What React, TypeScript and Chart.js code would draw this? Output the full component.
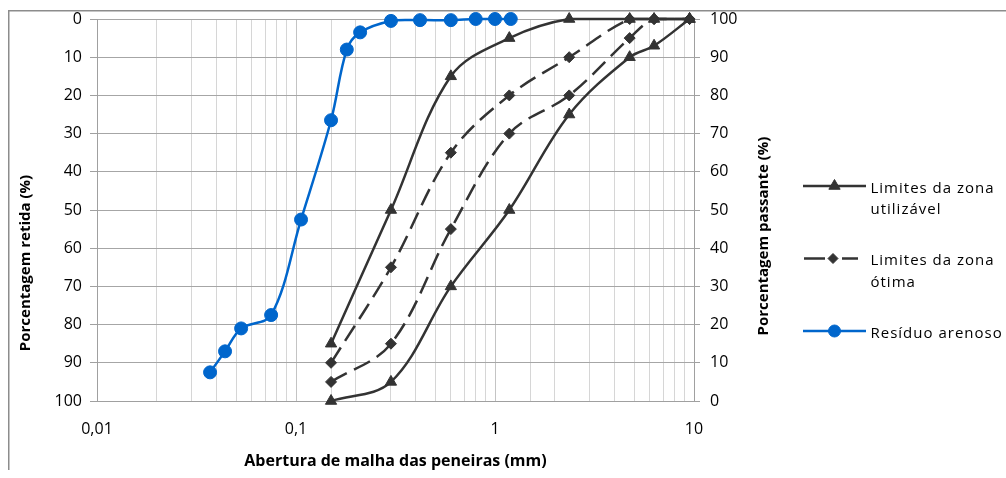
import React, { useEffect, useRef } from 'react';
import { Chart, registerables } from 'chart.js';

Chart.register(...registerables);

// ---------- data ----------
const sieveOpenings = [0.15, 0.3, 0.6, 1.18, 2.36, 4.75, 6.3, 9.5];
const usableUpperPassing = [15, 50, 85, 95, 100, 100, 100, 100];
const usableLowerPassing = [0, 5, 30, 50, 75, 90, 93, 100];
const optimalUpperPassing = [10, 35, 65, 80, 90, 100, 100, 100];
const optimalLowerPassing = [5, 15, 45, 70, 80, 95, 100, 100];

const residueOpenings = [0.037, 0.044, 0.053, 0.075, 0.106, 0.15, 0.18, 0.21, 0.3, 0.42, 0.6, 0.8, 1.0, 1.2];
const residuePassing = [7.5, 13, 19, 22.5, 47.5, 73.5, 92, 96.5, 99.5, 99.7, 99.7, 100, 100, 100];

const xDecadeLabels = ['0,01', '0,1', '1', '10'];
const legendUsable = ['Limites da zona', 'utilizável'];
const legendOptimal = ['Limites da zona', 'ótima'];
const legendResidue = ['Resíduo arenoso'];
const xTitle = 'Abertura de malha das peneiras (mm)';
const leftTitle = 'Porcentagem retida (%)';
const rightTitle = 'Porcentagem passante (%)';

// ---------- styles ----------
const FONT = "'Open Sans', 'DejaVu Sans', sans-serif";
const DARK = '#333333';
const BLUE = '#0066cc';
const W = 998;
const H = 462;

const toPoints = (xs: number[], ys: number[]) => xs.map((x, i) => ({ x, y: ys[i] }));

function drawMarker(ctx: CanvasRenderingContext2D, style: string, x: number, y: number, r: number, color: string) {
  ctx.save();
  ctx.fillStyle = color;
  ctx.strokeStyle = color;
  ctx.lineWidth = 1;
  ctx.setLineDash([]);
  ctx.beginPath();
  if (style === 'triangle') {
    ctx.moveTo(x, y - r);
    ctx.lineTo(x + r * 0.866, y + r * 0.5);
    ctx.lineTo(x - r * 0.866, y + r * 0.5);
    ctx.closePath();
  } else if (style === 'rectRot') {
    ctx.moveTo(x, y - r);
    ctx.lineTo(x + r, y);
    ctx.lineTo(x, y + r);
    ctx.lineTo(x - r, y);
    ctx.closePath();
  } else {
    ctx.arc(x, y, r, 0, Math.PI * 2);
  }
  ctx.fill();
  ctx.stroke();
  ctx.restore();
}

const decorPlugin = {
  id: 'decor',
  afterDraw(chart: any) {
    const ctx: CanvasRenderingContext2D = chart.ctx;
    ctx.save();
    // outer chart border (left + top)
    ctx.strokeStyle = '#8c8c8c';
    ctx.lineWidth = 1.5;
    ctx.beginPath();
    ctx.moveTo(0.75, H);
    ctx.lineTo(0.75, 2.75);
    ctx.lineTo(W, 2.75);
    ctx.stroke();

    // y titles
    ctx.fillStyle = '#000';
    ctx.font = `bold 15px ${FONT}`;
    ctx.textAlign = 'center';
    ctx.textBaseline = 'middle';
    ctx.save();
    ctx.translate(18, 255);
    ctx.rotate(-Math.PI / 2);
    ctx.fillText(leftTitle, 0, 0);
    ctx.restore();
    ctx.save();
    ctx.translate(756, 228);
    ctx.rotate(-Math.PI / 2);
    ctx.fillText(rightTitle, 0, 0);
    ctx.restore();

    // legend
    const items = [
      { ds: chart.data.datasets[0], text: legendUsable, y: 178, x0: 795, x1: 858, dash: [] as number[], r: 6.5 },
      { ds: chart.data.datasets[2], text: legendOptimal, y: 250.5, x0: 796, x1: 850, dash: [21, 17], r: 5 },
      { ds: chart.data.datasets[4], text: legendResidue, y: 323, x0: 795, x1: 858, dash: [] as number[], r: 6 },
    ];
    ctx.font = `15px ${FONT}`;
    (ctx as any).letterSpacing = '1px';
    ctx.textAlign = 'left';
    ctx.textBaseline = 'alphabetic';
    for (const it of items) {
      ctx.save();
      ctx.strokeStyle = it.ds.borderColor;
      ctx.lineWidth = it.ds.borderWidth;
      ctx.setLineDash(it.dash);
      ctx.beginPath();
      ctx.moveTo(it.x0, it.y);
      ctx.lineTo(it.x1, it.y);
      ctx.stroke();
      ctx.restore();
      drawMarker(ctx, it.ds.pointStyle, (it.x0 + it.x1) / 2 + (it.dash.length ? 2 : 0), it.y, it.r, it.ds.pointBackgroundColor);
      ctx.fillStyle = '#000';
      it.text.forEach((t: string, i: number) => {
        ctx.fillText(t, 862.5, it.y + 6.5 + i * 21.5);
      });
    }
    ctx.restore();
  },
};

const zeroPad = (s: any) => {
  s.paddingTop = 0;
  s.paddingBottom = 0;
};

export default function App() {
  const ref = useRef<HTMLCanvasElement>(null);

  useEffect(() => {
    const canvas = ref.current!;
    Chart.defaults.font.family = FONT;
    const lineBase = {
      borderColor: DARK,
      backgroundColor: DARK,
      pointBackgroundColor: DARK,
      pointBorderColor: DARK,
      borderWidth: 2.5,
      pointBorderWidth: 1,
      tension: 0.35,
      fill: false,
      clip: false as const,
      yAxisID: 'y1',
    };
    const chart = new Chart(canvas, {
      type: 'line',
      data: {
        datasets: [
          { ...lineBase, label: legendUsable.join(' '), data: toPoints(sieveOpenings, usableUpperPassing), pointStyle: 'triangle', pointRadius: 6.5 },
          { ...lineBase, label: legendUsable.join(' ') + ' (inf.)', data: toPoints(sieveOpenings, usableLowerPassing), pointStyle: 'triangle', pointRadius: 6.5 },
          { ...lineBase, label: legendOptimal.join(' '), data: toPoints(sieveOpenings, optimalUpperPassing), pointStyle: 'rectRot', pointRadius: 5.5, borderDash: [18, 8] },
          { ...lineBase, label: legendOptimal.join(' ') + ' (inf.)', data: toPoints(sieveOpenings, optimalLowerPassing), pointStyle: 'rectRot', pointRadius: 5.5, borderDash: [18, 8] },
          {
            ...lineBase,
            label: legendResidue[0],
            data: toPoints(residueOpenings, residuePassing),
            borderColor: BLUE,
            backgroundColor: BLUE,
            pointBackgroundColor: BLUE,
            pointBorderColor: BLUE,
            pointStyle: 'circle',
            pointRadius: 6.5,
          },
        ] as any,
      },
      options: {
        responsive: false,
        animation: false,
        devicePixelRatio: 1,
        layout: { padding: { left: 0, top: 11, right: W - 766, bottom: 0 } },
        plugins: { legend: { display: false }, tooltip: { enabled: false } },
        scales: {
          x: {
            type: 'logarithmic',
            position: 'bottom',
            min: 0.01,
            max: 10,
            afterFit: (s: any) => {
              s.height = 69;
              s.paddingLeft = 0;
              s.paddingRight = 0;
            },
            grid: {
              color: (c: any) => {
                const v = c.tick ? c.tick.value : 1;
                const l = Math.log10(v);
                return Math.abs(l - Math.round(l)) < 1e-6 ? '#c4c4c4' : '#d6d6d6';
              },
              lineWidth: 1,
              drawTicks: false,
            },
            border: { display: true, color: '#a0a0a0', width: 1 },
            ticks: {
              autoSkip: false,
              maxRotation: 0,
              padding: 19,
              color: '#000',
              font: { size: 16 },
              callback: (v: any) => {
                const l = Math.log10(Number(v));
                const r = Math.round(l);
                if (Math.abs(l - r) < 1e-6) return xDecadeLabels[r + 2] ?? '';
                return '';
              },
            },
            title: {
              display: true,
              text: xTitle,
              color: '#000',
              font: { size: 16, weight: 'bold' },
              padding: { top: 0, bottom: -1 },
            },
          },
          y: {
            type: 'linear',
            position: 'left',
            reverse: true,
            min: 0,
            max: 100,
            afterFit: (s: any) => { s.width = 89; zeroPad(s); },
            grid: { color: '#a6a6a6', lineWidth: 1, tickLength: 7, tickColor: '#a0a0a0' },
            border: { display: true, color: '#a0a0a0', width: 1 },
            ticks: { stepSize: 10, padding: 8, color: '#000', font: { size: 16 } },
          },
          y1: {
            type: 'linear',
            position: 'right',
            min: 0,
            max: 100,
            afterFit: (s: any) => { s.width = 80; zeroPad(s); },
            grid: { drawOnChartArea: false, tickLength: 6, tickColor: '#a0a0a0' },
            border: { display: true, color: '#a0a0a0', width: 1 },
            ticks: { stepSize: 10, padding: 10, color: '#000', font: { size: 16 } },
          },
        },
      } as any,
      plugins: [decorPlugin],
    });
    return () => chart.destroy();
  }, []);

  return (
    <div style={{ position: 'fixed', left: 8, top: 8, width: W, height: H }}>
      <canvas ref={ref} width={W} height={H} style={{ display: 'block', width: W, height: H }} />
    </div>
  );
}
